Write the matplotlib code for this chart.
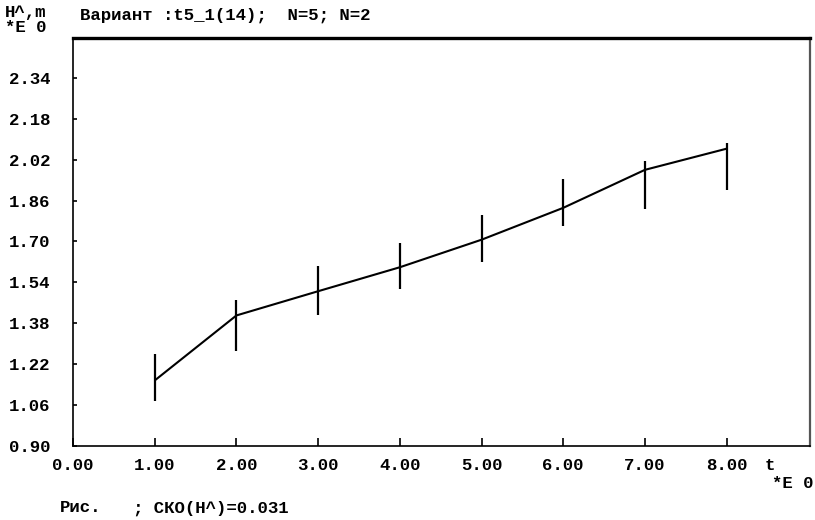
import matplotlib
matplotlib.use("Agg")
import matplotlib.pyplot as plt

t = [1, 2, 3, 4, 5, 6, 7, 8]
h = [1.155, 1.410, 1.505, 1.599, 1.707, 1.832, 1.981, 2.064]
h_lo = [1.073, 1.270, 1.410, 1.512, 1.619, 1.759, 1.828, 1.900]
h_hi = [1.260, 1.469, 1.602, 1.696, 1.805, 1.946, 2.015, 2.085]
xticks = [0, 1, 2, 3, 4, 5, 6, 7, 8]
xticklabels = ["0.00", "1.00", "2.00", "3.00", "4.00", "5.00", "6.00", "7.00", "8.00"]
yticks = [0.90, 1.06, 1.22, 1.38, 1.54, 1.70, 1.86, 2.02, 2.18, 2.34]
yticklabels = ["0.90", "1.06", "1.22", "1.38", "1.54", "1.70", "1.86", "2.02", "2.18", "2.34"]

title = "Вариант :t5_1(14);  N=5; N=2"
ylab1 = "H^,m"
ylab2 = "*E 0"
xlab1 = "t"
xlab2 = "*E 0"
footer1 = "Рис."
footer2 = "; СКО(Н^)=0.031"

FONT = ["Liberation Mono", "DejaVu Sans Mono"]
fs = 12.5

fig = plt.figure(figsize=(8.15, 5.2), dpi=100)
ax = fig.add_axes([73/815, 1 - 445.5/520, (810-73)/815, (445.5-38)/520])

ax.plot(t, h, color="black", lw=1.5, solid_capstyle="butt")
ax.vlines(t, h_lo, h_hi, color="black", lw=1.6)

ax.set_xlim(0, 9.02)
ax.set_ylim(0.90, 2.498)
ax.set_xticks(xticks)
ax.set_xticklabels(xticklabels, fontfamily=FONT, fontsize=fs, fontweight="bold")
ax.set_yticks(yticks)
ax.set_yticklabels(yticklabels, fontfamily=FONT, fontsize=fs, fontweight="bold")
ax.tick_params(axis="x", direction="in", length=6, width=1.2, pad=9)
ax.tick_params(axis="y", direction="in", length=3, width=1.2, pad=16)

for s in ["left", "bottom"]:
    ax.spines[s].set_linewidth(1.2)
    ax.spines[s].set_color("black")
ax.spines["top"].set_linewidth(2.4)
ax.spines["top"].set_color("black")
ax.spines["right"].set_linewidth(1.6)
ax.spines["right"].set_color("#555555")

def ftxt(x, y, s, ha="left"):
    fig.text(x/815, 1 - y/520, s, ha=ha, va="center", fontfamily=FONT,
             fontsize=fs, fontweight="bold")

ftxt(5, 13, ylab1)
ftxt(5, 28, ylab2)
ftxt(80, 15, title)
ftxt(770, 466, xlab1, ha="center")
ftxt(772, 483, xlab2)
ftxt(60, 508, footer1)
ftxt(133, 508, footer2)

fig.savefig("out.png", dpi=100, facecolor="white")
